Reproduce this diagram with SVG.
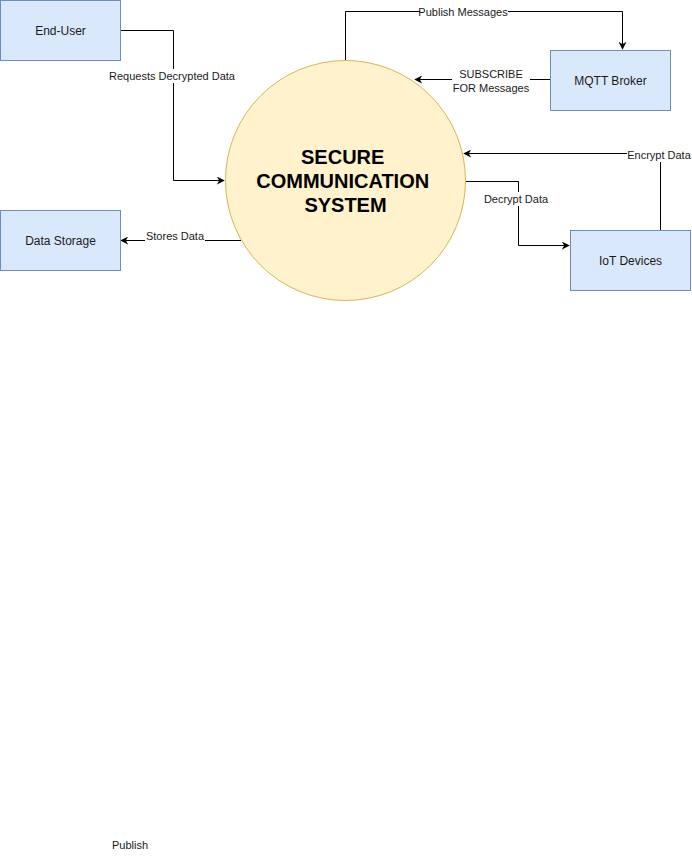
<svg xmlns="http://www.w3.org/2000/svg" width="692" height="861" viewBox="0 0 692 861">
<defs>
<style>
.box{fill:#dae8fc;stroke:#6c8ebf;stroke-width:1}
.lbl{font-family:"Liberation Sans",Arial,sans-serif;font-size:12px;fill:#1a1a1a;text-anchor:middle;dominant-baseline:central}
.el{font-family:"Liberation Sans",Arial,sans-serif;font-size:11px;fill:#1a1a1a;text-anchor:middle;dominant-baseline:central}
.bg{fill:#ffffff}
.c{fill:none;stroke:#000;stroke-width:1;marker-end:url(#arr)}
</style>
<marker id="arr" viewBox="0 0 10 10" refX="9" refY="5" markerWidth="8" markerHeight="8" markerUnits="userSpaceOnUse" orient="auto">
<path d="M0,0 L10,5 L0,10 L3,5 Z" fill="#000"/>
</marker>
</defs>
<rect width="692" height="861" fill="#fff"/>
<g id="connectors">
<path class="c" d="M120.5,30.5 H173.5 V180.5 H224"/>
<rect class="bg" x="108" y="69" width="128" height="14"/>
<text class="el" x="172" y="76">Requests Decrypted Data</text>
<path class="c" d="M345.5,60 V11.5 H622.5 V49"/>
<rect class="bg" x="420" y="5" width="88" height="14"/>
<text class="el" x="463" y="12">Publish Messages</text>
<path class="c" d="M550,79.5 H415"/>
<rect class="bg" x="452" y="66" width="78" height="28"/>
<text class="el" x="491" y="74">SUBSCRIBE</text>
<text class="el" x="491" y="88">FOR Messages</text>
<path class="c" d="M660.5,230 V153.5 H464"/>
<rect class="bg" x="627" y="148" width="65" height="14"/>
<text class="el" x="659" y="155">Encrypt Data</text>
<path class="c" d="M465,181.5 H518.5 V245.5 H569"/>
<rect class="bg" x="484" y="192" width="66" height="14"/>
<text class="el" x="516" y="199">Decrypt Data</text>
<path class="c" d="M241,240.5 H121"/>
<rect class="bg" x="145" y="229" width="60" height="14"/>
<text class="el" x="175" y="236">Stores Data</text>
</g>
<g id="end-user">
<rect class="box" x="0.5" y="0.5" width="120" height="60"/>
<text class="lbl" x="60.5" y="30.5">End-User</text>
</g>
<g id="data-storage">
<rect class="box" x="0.5" y="210.5" width="120" height="60"/>
<text class="lbl" x="60.5" y="240.5">Data Storage</text>
</g>
<g id="mqtt-broker">
<rect class="box" x="550.5" y="50.5" width="120" height="60"/>
<text class="lbl" x="610.5" y="80.5">MQTT Broker</text>
</g>
<g id="iot-devices">
<rect class="box" x="570.5" y="230.5" width="120" height="60"/>
<text class="lbl" x="630.5" y="260.5">IoT Devices</text>
</g>
<g id="secure-communication-system">
<circle cx="345.5" cy="180.5" r="120" fill="#fff2cc" stroke="#d6b656" stroke-width="1"/>
<text font-family="'Liberation Sans',Arial,sans-serif" font-size="20" font-weight="bold" fill="#000" text-anchor="middle" dominant-baseline="central">
<tspan x="345.5" y="157">SECURE</tspan>
<tspan x="345.5" y="181">COMMUNICATION</tspan>
<tspan x="345.5" y="205">SYSTEM</tspan>
</text>
</g>
<text class="el" x="130" y="844.5">Publish</text>
</svg>
